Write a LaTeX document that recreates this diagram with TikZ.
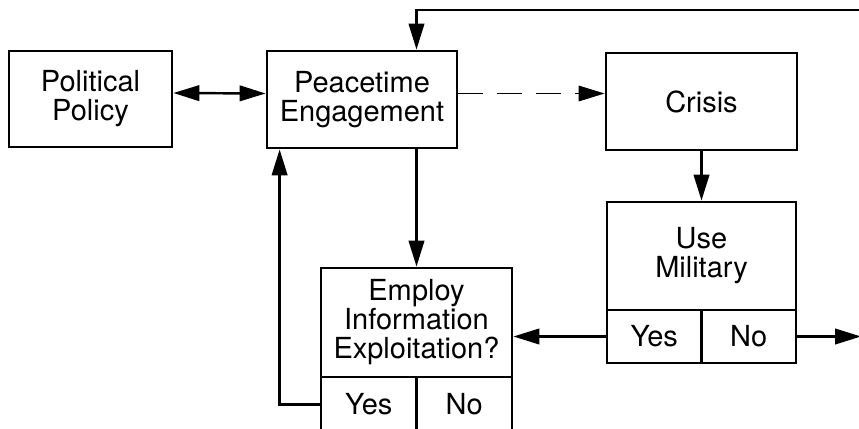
\documentclass[tikz,border=0pt]{standalone}
\usepackage{fontspec}
\setmainfont{TeX Gyre Heros}
\usetikzlibrary{arrows.meta,calc}

\begin{document}
\begin{tikzpicture}[x=0.02cm,y=-0.02cm,
  box/.style={draw,line width=1.6pt,align=center,inner sep=0pt,
    font=\fontsize{16.5}{16.5}\selectfont},
  tip/.style={Triangle[length=5.2mm,width=3.1mm]},
  conn/.style={line width=1.4pt,-{Triangle[length=5.2mm,width=3.1mm]}}]
  \useasboundingbox (0,0) rectangle (859,429);

  \node[box, minimum width=3.26cm, minimum height=1.92cm] (pol) at (90.5,99) {Political\\Policy};
  \node[box, minimum width=3.8cm, minimum height=1.94cm] (peace) at (362,99.5) {Peacetime\\Engagement};
  \node[box, minimum width=3.82cm, minimum height=1.94cm] (crisis) at (701.5,101.5) {Crisis};

  \node[box, minimum width=3.78cm, minimum height=2.16cm] (mil) at (701.5,256) {Use\\Military};
  \node[box, minimum width=1.89cm, minimum height=1.06cm] (milyes) at (654.25,336.5) {Yes};
  \node[box, minimum width=1.89cm, minimum height=1.06cm] (milno) at (748.75,336.5) {No};

  \node[box, minimum width=3.82cm, minimum height=2.18cm] (emp) at (416.5,322.5) {Employ\\Information\\Exploitation?};
  \node[box, minimum width=1.91cm, minimum height=1.1cm] (empyes) at (368.75,404.5) {Yes};
  \node[box, minimum width=1.91cm, minimum height=1.1cm] (empno) at (464.25,404.5) {No};

  \coordinate (topend) at (861,10);
  \coordinate (noend) at (861,336.5);

  \draw[conn] (topend) -| (emp.north |- peace.north);
  \draw[line width=1.4pt,{Triangle[length=5.2mm,width=3.1mm]}-{Triangle[length=5.2mm,width=3.1mm]}]
    ([yshift=0.12cm]pol.east) -- ([yshift=0.12cm]peace.west);
  \draw[conn, line width=1pt, dash pattern=on 0.5cm off 0.28cm]
    ([yshift=0.12cm]peace.east) -- ([yshift=0.12cm]peace.east -| crisis.west);
  \draw[conn] (crisis.south) -- (mil.north);
  \draw[conn] (peace.south -| emp.north) -- (emp.north);
  \draw[conn] (milyes.west) -- (milyes.west -| emp.east);
  \draw[conn] (milno.east) -- (noend);
  \draw[conn] (empyes.west) -| ([xshift=0.28cm]peace.south west);
\end{tikzpicture}
\end{document}
